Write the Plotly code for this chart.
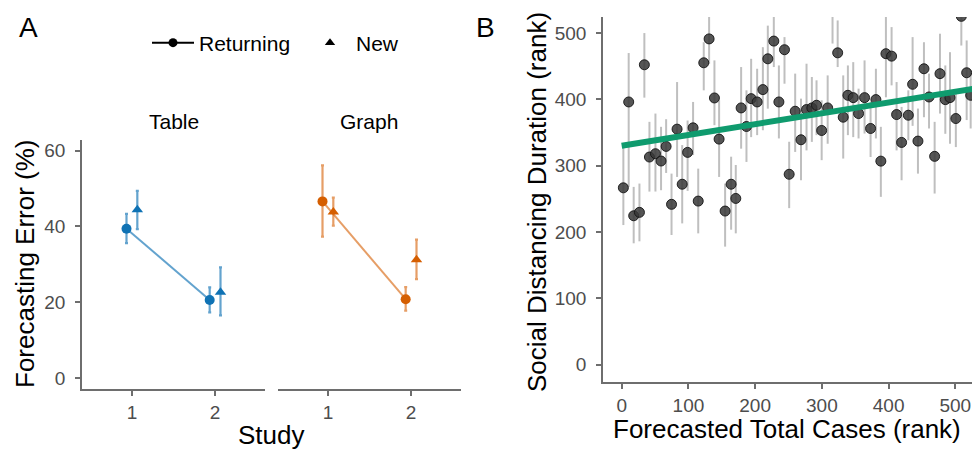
import plotly.graph_objects as go

W, H = 972, 452
FONT = "Liberation Sans"

# ---------------- Panel A data ----------------
studies = [1, 2]
table_ret = [39.4, 20.6]
table_ret_lo = [35.6, 17.3]
table_ret_hi = [43.3, 23.9]
table_new = [44.4, 22.6]
table_new_lo = [39.3, 16.5]
table_new_hi = [49.4, 29.2]
graph_ret = [46.6, 20.8]
graph_ret_lo = [37.3, 17.8]
graph_ret_hi = [56.1, 24.0]
graph_new = [43.8, 31.2]
graph_new_lo = [40.2, 26.1]
graph_new_hi = [47.6, 36.5]
a_yticks = [0, 20, 40, 60]

# ---------------- Panel B data ----------------
cases_rank = [2.5, 10.5, 18, 26.6, 34, 41.6, 50.6, 59, 66.6,
              74.7, 83, 90.7, 98.8, 107, 114.7, 123, 131, 139, 146, 155,
              164, 171, 179, 187, 194, 203, 211.6, 219, 228, 235.6, 244, 251,
              260, 268.7, 277, 285, 292, 299.7, 308.7, 316, 323.7, 332, 339,
              347, 355, 364, 373, 381, 388.4, 396, 404.5, 412, 419.5, 429.6, 436,
              444, 453, 460.6, 469, 477, 485, 492, 500.8, 509, 517, 523]
dist_rank = [266.6, 396, 224.5, 229.6, 452, 313, 318, 307, 329,
             241.7, 355, 272, 320, 357, 246.6, 455, 491, 402, 340, 231.6,
             272, 250.6, 387, 359, 401, 396, 414.6, 461, 487.7, 396, 474.7, 287,
             382, 339, 384.5, 387, 391, 353, 387, 535, 470, 373, 406,
             402.5, 378.5, 402.5, 356, 399.5, 306.8, 468.7, 465, 377, 335, 376, 422.6,
             337, 446, 403.5, 314, 438.6, 399.5, 402.5, 371, 525, 440, 406]
dist_hi = [330.8, 469.7, 268, 273, 499.8, 366, 378.5, 358.5, 370,
           288, 426, 331, 368, 396, 295.5, 486, 530, 458.6, 398.5, 273,
           313.5, 301, 448.6, 413.5, 461, 446, 478.6, 511, 530, 451, 493.7, 336,
           438.7, 401, 453.6, 433.6, 428.6, 398.5, 436, 580, 518.8, 436, 451,
           456, 416, 458.6, 396, 446, 358.5, 530, 508.8, 426, 388.5, 413.5, 493.7,
           386, 486, 438.7, 366, 498.8, 451, 471, 413.5, 540, 488.7, 443.6]
dist_lo = [210.5, 268, 183, 186, 402.5, 260.9, 261, 263, 289,
           195.5, 283, 213, 262, 316, 198, 413.5, 453.4, 361, 283, 178,
           203.5, 198, 325.6, 305.6, 343, 346, 353.4, 385.9, 448.6, 341, 423.5, 236,
           320.7, 278, 323, 335.8, 346, 308.3, 333, 484, 448.6, 310.7, 346,
           343, 341, 348.4, 313, 341, 253, 403, 421, 323, 278, 338.3, 360,
           288, 373, 356, 258, 378.5, 348, 333, 328, 481, 368.7, 356]
fit_x = [0, 540]
fit_y = [330, 418]
b_ticks = [0, 100, 200, 300, 400, 500]

BLUE = "#0f72b4"
BLUE_L = "rgba(15,114,180,0.65)"
ORANGE = "#d55e00"
ORANGE_L = "rgba(213,94,0,0.6)"
AXC = "#6e6e6e"
TICKC = "#4d4d4d"
DODGE = 0.065


def px_x(p):
    return p / W


def px_y(p):
    return 1 - p / H


fig = go.Figure()


def add_group(ret, ret_lo, ret_hi, new, new_lo, new_hi, col, col_l, xa, ya):
    xr = [s - DODGE for s in studies]
    xn = [s + DODGE for s in studies]
    fig.add_trace(go.Scatter(
        x=xr, y=ret, mode="lines+markers", xaxis=xa, yaxis=ya, showlegend=False,
        line=dict(color=col_l, width=2),
        marker=dict(color=col, size=10, symbol="circle"),
        error_y=dict(type="data", symmetric=False,
                     array=[h - v for h, v in zip(ret_hi, ret)],
                     arrayminus=[v - l for v, l in zip(ret, ret_lo)],
                     color=col_l, thickness=2.2, width=1.5)))
    fig.add_trace(go.Scatter(
        x=xn, y=new, mode="markers", xaxis=xa, yaxis=ya, showlegend=False,
        marker=dict(color=col, size=10, symbol="triangle-up"),
        error_y=dict(type="data", symmetric=False,
                     array=[h - v for h, v in zip(new_hi, new)],
                     arrayminus=[v - l for v, l in zip(new, new_lo)],
                     color=col_l, thickness=2.2, width=1.5)))


add_group(table_ret, table_ret_lo, table_ret_hi, table_new, table_new_lo, table_new_hi,
          BLUE, BLUE_L, "x", "y")
add_group(graph_ret, graph_ret_lo, graph_ret_hi, graph_new, graph_new_lo, graph_new_hi,
          ORANGE, ORANGE_L, "x2", "y2")

# legend-only entries
fig.add_trace(go.Scatter(x=[None], y=[None], mode="lines+markers", name="Returning",
                         legend="legend",
                         line=dict(color="black", width=2),
                         marker=dict(color="black", size=9, symbol="circle")))
fig.add_trace(go.Scatter(x=[None], y=[None], mode="markers", name="New",
                         legend="legend2",
                         marker=dict(color="black", size=9, symbol="triangle-up")))

# Panel B
fig.add_trace(go.Scatter(
    x=cases_rank, y=dist_rank, mode="markers", xaxis="x3", yaxis="y3", showlegend=False,
    marker=dict(color="rgba(55,55,55,0.85)", size=10, line=dict(color="rgba(20,20,20,0.9)", width=1)),
    error_y=dict(type="data", symmetric=False,
                 array=[h - v for h, v in zip(dist_hi, dist_rank)],
                 arrayminus=[v - l for v, l in zip(dist_rank, dist_lo)],
                 color="rgba(170,170,170,0.75)", thickness=2, width=0)))
fig.add_trace(go.Scatter(
    x=fit_x, y=fit_y, mode="lines", xaxis="x3", yaxis="y3", showlegend=False,
    line=dict(color="#0f9b6e", width=6)))

axis_common = dict(showline=True, linecolor=AXC, linewidth=1.5, ticks="outside",
                   ticklen=5, tickwidth=1.5, tickcolor=AXC, showgrid=False, zeroline=False,
                   tickfont=dict(family=FONT, size=19, color=TICKC))

leg_common = dict(orientation="h", xanchor="left", yanchor="middle",
                  font=dict(family=FONT, size=21, color="black"), itemwidth=42,
                  bgcolor="rgba(0,0,0,0)")

fig.update_layout(
    width=W, height=H, margin=dict(l=0, r=0, t=0, b=0),
    paper_bgcolor="white", plot_bgcolor="white",
    font=dict(family=FONT),
    xaxis=dict(domain=[px_x(82), px_x(265)], range=[0.4, 2.6], tickvals=studies,
               anchor="y", **axis_common),
    yaxis=dict(domain=[px_y(389), px_y(140)], range=[-2.9, 62.8], tickvals=a_yticks,
               anchor="x", ticklabelstandoff=6, **axis_common),
    xaxis2=dict(domain=[px_x(278), px_x(461)], range=[0.4, 2.6], tickvals=studies,
                anchor="y2", **axis_common),
    yaxis2=dict(domain=[px_y(389), px_y(140)], range=[-2.9, 62.8], anchor="x2",
                showline=False, showticklabels=False, ticks="", showgrid=False, zeroline=False),
    xaxis3=dict(domain=[px_x(603), 1.0], range=[-28, 525], tickvals=b_ticks,
                anchor="y3", **axis_common),
    yaxis3=dict(domain=[px_y(382), px_y(17)], range=[-26, 524], tickvals=b_ticks,
                anchor="x3", ticklabelstandoff=6, **axis_common),
    legend=dict(x=px_x(147), y=px_y(43), **leg_common),
    legend2=dict(x=px_x(304), y=px_y(43), **leg_common),
)

ann = [
    dict(text="A", x=px_x(28), y=px_y(27), size=28),
    dict(text="B", x=px_x(485), y=px_y(27), size=28),
    dict(text="Table", x=px_x(174), y=px_y(121), size=21),
    dict(text="Graph", x=px_x(369), y=px_y(121), size=21),
    dict(text="Study", x=px_x(271), y=px_y(435), size=26),
    dict(text="Forecasted Total Cases (rank)", x=px_x(787), y=px_y(429), size=26),
    dict(text="Forecasting Error (%)", x=px_x(25), y=px_y(264), size=26, angle=-90),
    dict(text="Social Distancing Duration (rank)", x=px_x(537), y=px_y(202), size=26, angle=-90),
]
for a in ann:
    fig.add_annotation(text=a["text"], x=a["x"], y=a["y"], xref="paper", yref="paper",
                       showarrow=False, xanchor="center", yanchor="middle",
                       textangle=a.get("angle", 0),
                       font=dict(family=FONT, size=a["size"], color="black"))

fig.write_html("out.html", config={"displayModeBar": False},
               post_script="document.body.style.margin='0px';document.body.style.overflow='hidden';")
